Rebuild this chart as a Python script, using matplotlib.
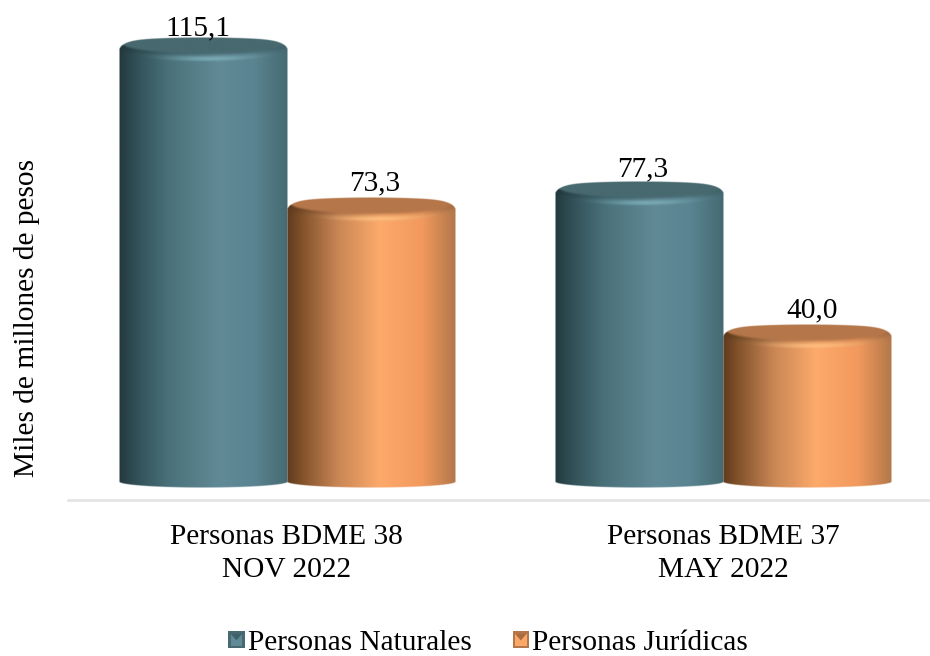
import numpy as np
import matplotlib
matplotlib.use("Agg")
import matplotlib.pyplot as plt
from matplotlib.colors import to_rgb
from matplotlib.legend_handler import HandlerBase
from matplotlib.patches import Polygon, Rectangle

categories = ["Personas BDME 38\nNOV 2022", "Personas BDME 37\nMAY 2022"]
series_names = ["Personas Naturales", "Personas Jurídicas"]
naturales = [115.1, 77.3]
juridicas = [73.3, 40.0]
y_label = "Miles de millones de pesos"

STOPS = {
    "teal": ([0, .08, .3, .6, .8, 1],
             ["#22383d", "#2f4c53", "#4b727b", "#618a97", "#5a8491", "#456a72"]),
    "orange": ([0, .08, .3, .55, .8, 1],
               ["#5f3a1e", "#7f5029", "#c98655", "#fdaa6b", "#f2995d", "#b2774a"]),
}
FACE = {"teal": "#47696f", "orange": "#b5774a"}
GLOW = {"teal": "#7db0bb", "orange": "#ffc080"}

plt.rcParams["font.family"] = ["Liberation Serif", "DejaVu Serif"]
W, H = 930, 656
fig = plt.figure(figsize=(W / 100, H / 100), dpi=100)
AX_L, AX_R, AX_T, AX_B = 68, 930, 0, 500
ax = fig.add_axes([AX_L / W, 1 - AX_B / H, (AX_R - AX_L) / W, (AX_B - AX_T) / H])
PX_PER_UNIT = 3.83
ax.set_xlim(-0.502, 1.475)
ax.set_ylim(-22 / PX_PER_UNIT, 478 / PX_PER_UNIT)
BAR_W = 168 / 436


def grad(t, name):
    pos, cols = STOPS[name]
    cols = np.array([to_rgb(c) for c in cols])
    u = (t + 1) / 2
    return np.stack([np.interp(u, pos, cols[:, i]) for i in range(3)], axis=-1)


def smooth(a, b, x):
    s = np.clip((x - a) / (b - a), 0, 1)
    return s * s * (3 - 2 * s)


def cylinder(x_left, value, name):
    top_span = value * PX_PER_UNIT
    height = top_span + 14
    half_px = 84
    ny, nx = int(height * 2), int(half_px * 4)
    t = np.linspace(-1, 1, nx)
    d = np.linspace(-2, height - 2, ny)
    T, D = np.meshgrid(t, d)
    base = grad(T, name)
    root = np.sqrt(np.clip(1 - np.abs(T) ** 8, 0, 1))
    top_edge = 10 * (1 - root) + 3 * T ** 2
    bottom_edge = top_span + 4 + 6 * np.sqrt(np.clip(1 - T ** 2, 0, 1))
    alpha = np.clip((D - top_edge) * 2, 0, 1) * np.clip((bottom_edge - D) * 2, 0, 1)
    alpha *= np.clip((1 - np.abs(T)) * half_px * 2, 0, 1)

    face_low = 6 + 10 * np.sqrt(np.clip(1 - (T / .96) ** 2, 0, 1))
    band_low = 14 + 11 * np.sqrt(np.clip(1 - T ** 2, 0, 1))
    face = np.array(to_rgb(FACE[name]))
    glow = np.array(to_rgb(GLOW[name]))
    s = np.clip((D - face_low) / np.maximum(band_low - face_low, 1), 0, 1)[..., None]
    focus = np.exp(-((T - .1) / .5) ** 2)[..., None]
    shade = base * (0.86 + 0.14 * s)
    band = shade + (glow - shade) * focus * 0.85 * np.sin(np.pi * s ** 1.4) ** 1.5
    img = np.where(D[..., None] < band_low[..., None], band, base)
    blend = smooth(-1.5, 2, D - face_low)[..., None]
    img = face * (1 - blend) + img * blend
    rgba = np.dstack([np.clip(img, 0, 1), alpha])
    ax.imshow(rgba, extent=(x_left, x_left + BAR_W, value - (height - 2) / PX_PER_UNIT,
                            value + 2 / PX_PER_UNIT),
              origin="upper", aspect="auto", interpolation="bilinear", zorder=2)


x = np.arange(len(categories))
label_fs = 21.2
nudges = {0: [(-5, 2), (4, 7)], 1: [(4, 6), (5, 7)]}
for i in x:
    cylinder(i - BAR_W, naturales[i], "teal")
    cylinder(i, juridicas[i], "orange")
    for j, (val, cx) in enumerate([(naturales[i], i - BAR_W / 2), (juridicas[i], i + BAR_W / 2)]):
        dx, dy = nudges[i][j]
        ax.annotate(f"{val:.1f}".replace(".", ","), (cx, val), xytext=(dx * .72, dy * .72),
                    textcoords="offset points", ha="center", va="baseline",
                    fontsize=label_fs, color="black", zorder=3, annotation_clip=False)

ax.set_xlim(-0.502, 1.475)
ax.set_ylim(-22 / PX_PER_UNIT, 478 / PX_PER_UNIT)
ax.set_xticks(x)
ax.set_xticklabels(categories, fontsize=label_fs, linespacing=1.36)
ax.set_yticks([])
ax.tick_params(axis="x", length=0, pad=17)
for side in ["top", "left", "right"]:
    ax.spines[side].set_visible(False)
ax.spines["bottom"].set_color("#e2e2e2")
ax.spines["bottom"].set_linewidth(1.8)
ax.patch.set_alpha(0)
ax.set_ylabel(y_label, fontsize=label_fs)
ax.yaxis.set_label_coords((40 - AX_L) / (AX_R - AX_L), (AX_B - 318) / (AX_B - AX_T))


class BevelSwatch(HandlerBase):
    def create_artists(self, legend, orig, xd, yd, width, height, fontsize, trans):
        name = orig.get_gid()
        s = min(width, height)
        x0 = xd * -1 + (width - s) / 2
        y0 = yd * -1 + (height - s) / 2
        mid = grad(np.array([.2]), name)[0]
        dark = grad(np.array([-.6]), name)[0]
        edge = Rectangle((x0, y0), s, s, facecolor=FACE[name], edgecolor="none", transform=trans)
        inner = Polygon([(x0 + s * .15, y0 + s * .12), (x0 + s * .85, y0 + s * .12),
                         (x0 + s * .85, y0 + s * .85), (x0 + s * .15, y0 + s * .85)],
                        facecolor=mid, edgecolor="none", transform=trans)
        tri = Polygon([(x0 + s * .15, y0 + s * .85), (x0 + s * .85, y0 + s * .85),
                       (x0 + s / 2, y0 + s * .45)],
                      facecolor=dark, edgecolor="none", transform=trans)
        return [edge, inner, tri]


h1 = Rectangle((0, 0), 1, 1, gid="teal")
h2 = Rectangle((0, 0), 1, 1, gid="orange")
fig.legend([h1, h2], series_names, loc="center", bbox_to_anchor=(488 / W, 1 - 643 / H),
           ncol=2, frameon=False, fontsize=label_fs, handlelength=0.56, handleheight=0.56,
           handletextpad=0.1, columnspacing=1.4, borderpad=0,
           handler_map={Rectangle: BevelSwatch()})
fig.savefig("out.png", dpi=100, facecolor="white")
